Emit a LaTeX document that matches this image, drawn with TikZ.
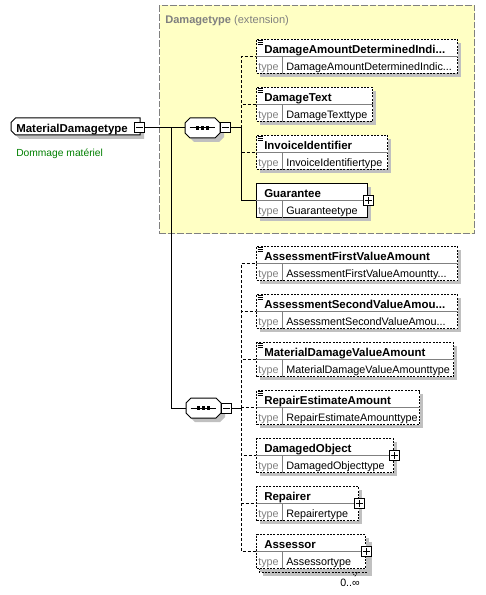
\documentclass[tikz,border=0pt]{standalone}
\usepackage{fontspec}
\setmainfont{Liberation Sans}
\usetikzlibrary{calc}
\definecolor{ybg}{HTML}{FFFFC4}
\definecolor{shd}{HTML}{C0C0C0}
\definecolor{grn}{HTML}{008000}
\definecolor{gry}{HTML}{808080}
\newcommand\ftitle{\fontsize{8.6}{10}\selectfont\bfseries}
\newcommand\ftype{\fontsize{8.1}{10}\selectfont}
\tikzset{
  conn/.style={line width=0.75pt},
  optconn/.style={conn, dash pattern=on 2.25pt off 1.5pt},
  elbox/.style={draw, fill=white, line width=0.75pt, inner sep=0pt, anchor=north west},
  optbox/.style={elbox, dash pattern=on 1.5pt off 1pt},
  titl/.style={anchor=base west, inner sep=0pt, font=\ftitle},
  typk/.style={anchor=base west, inner sep=0pt, font=\ftype, text=gry},
  typv/.style={anchor=base west, inner sep=0pt, font=\ftype},
  pbox/.style={draw, fill=white, line width=0.75pt, inner sep=0pt, minimum size=7.5pt},
  extbox/.style={draw=gry, fill=ybg, line width=0.75pt, dash pattern=on 5pt off 1.5pt, inner sep=0pt, anchor=north west},
  ghost/.style={inner sep=0pt, draw=none},
}
% element box: #1 name, #2 x, #3 top, #4 width, #5 style, #6 title, #7 type
\newcommand\xelem[7]{%
  \fill[shd] (#2+4,#3+4) rectangle ++(#4,34);
  \node[#5, minimum width=#4*0.75pt, minimum height=34*0.75pt] (#1) at (#2,#3) {};
  \draw[gry, line width=0.75pt] (#1.west) -- (#1.east);
  \draw[gry, line width=0.75pt] ($(#1.west)+(26,0)$) -- ($(#1.south west)+(26,0)$);
  \node[titl] (#1-t) at ($(#1.north west)+(8,14.3)$) {#6};
  \node[typk] (#1-k) at ($(#1.north west)+(2,31.5)$) {type};
  \node[typv] (#1-v) at ($(#1.north west)+(30,31.5)$) {#7};
}
\newcommand\xicon[1]{%
  \foreach \d in {1.8,3.5,5.2}
    \draw[line width=0.6pt] ($(#1.north west)+(1.5,\d)$) -- ++(5,0);
}
\newcommand\xplus[2]{%
  \node[pbox] (#1) at (#2) {};
  \draw[line width=0.75pt] ($(#1.center)+(-3.5,0)$) -- ($(#1.center)+(3.5,0)$);
  \draw[line width=0.75pt] ($(#1.center)+(0,-3.5)$) -- ($(#1.center)+(0,3.5)$);
}
\newcommand\xminus[2]{%
  \node[pbox] (#1) at (#2) {};
  \draw[line width=0.75pt] ($(#1.center)+(-3.5,0)$) -- ($(#1.center)+(3.5,0)$);
}
% sequence compositor: #1 name, #2 cx, #3 cy
\newcommand\xseq[3]{%
  \begin{scope}[shift={(#2+4,#3+4)}]
    \fill[shd] (-17.5,-5) -- (-12.5,-10) -- (12.5,-10) -- (17.5,-5) -- (17.5,5) -- (12.5,10) -- (-12.5,10) -- (-17.5,5) -- cycle;
  \end{scope}
  \node[ghost, minimum width=26.25pt, minimum height=15pt] (#1) at (#2,#3) {};
  \begin{scope}[shift={(#2,#3)}]
    \draw[line width=0.75pt, fill=white] (-17.5,-5) -- (-12.5,-10) -- (12.5,-10) -- (17.5,-5) -- (17.5,5) -- (12.5,10) -- (-12.5,10) -- (-17.5,5) -- cycle;
    \draw[line width=0.75pt] (-13,0) -- (12,0);
    \foreach \q in {-5,0,5} \fill (\q-1.6,-1.6) rectangle (\q+1.6,1.6);
  \end{scope}
}
\begin{document}
\begin{tikzpicture}[x=0.75pt, y=-0.75pt]
\useasboundingbox (0,0) rectangle (485,595);
\fill[white] (0,0) rectangle (485,595);

% extension frame
\node[extbox, minimum width=315*0.75pt, minimum height=228*0.75pt] (ext) at (159,5) {};
\node[anchor=base west, inner sep=0pt, text=gry, font=\fontsize{8.3}{10}\selectfont] (exth) at (165,23.3) {\textbf{Damagetype} (extension)};

% root element
\fill[shd] (15,122) -- (19.5,122) -- (144,122) -- (144,139) -- (19.5,139) -- (15,134.5) -- cycle;
\node[ghost, minimum width=129*0.75pt, minimum height=17*0.75pt] (md) at (75.5,126.5) {};
\draw[line width=0.75pt, fill=white] (11,122.5) -- (15.5,118) -- (140,118) -- (140,135) -- (15.5,135) -- (11,130.5) -- cycle;
\node[titl] (md-t) at (16,132.3) {MaterialDamagetype};
\node[anchor=base west, inner sep=0pt, text=grn, font=\fontsize{7.7}{9}\selectfont] (md-d) at (16,156.7) {Dommage matériel};
\xminus{mdm}{139,128}

% sequences
\xseq{seq1}{202.5}{128}
\xminus{sm1}{225.5,128}
\xseq{seq2}{203.5}{408}
\xminus{sm2}{226.5,408}

\coordinate (j0) at (171,128);
\coordinate (j1) at (241,128);
\coordinate (j2) at (241,408);

% children of first sequence
\xelem{c1}{256}{39}{201}{optbox}{DamageAmountDeterminedIndi...}{DamageAmountDeterminedIndic...}
\xicon{c1}
\xelem{c2}{256}{87}{116}{optbox}{DamageText}{DamageTexttype}
\xicon{c2}
\xelem{c3}{256}{135}{131}{optbox}{InvoiceIdentifier}{InvoiceIdentifiertype}
\xicon{c3}
\xelem{c4}{256}{183}{111}{elbox}{Guarantee}{Guaranteetype}
\xplus{c4p}{c4.east}

% children of second sequence
\xelem{d1}{256}{246}{201}{optbox}{AssessmentFirstValueAmount}{AssessmentFirstValueAmountty...}
\xicon{d1}
\xelem{d2}{256}{294}{201}{optbox}{AssessmentSecondValueAmou...}{AssessmentSecondValueAmou...}
\xicon{d2}
\xelem{d3}{256}{342}{197}{optbox}{MaterialDamageValueAmount}{MaterialDamageValueAmounttype}
\xicon{d3}
\xelem{d4}{256}{390}{163}{optbox}{RepairEstimateAmount}{RepairEstimateAmounttype}
\xicon{d4}
\xelem{d5}{256}{438}{137}{optbox}{DamagedObject}{DamagedObjecttype}
\xplus{d5p}{d5.east}
\xelem{d6}{256}{486}{102}{optbox}{Repairer}{Repairertype}
\xplus{d6p}{d6.east}
% Assessor (multiple occurrences)
\fill[shd] (263,542) rectangle (372,576);
\draw[line width=0.75pt, fill=white, dash pattern=on 1.5pt off 1pt] (259,538) rectangle (368,572);
\xelem{d7}{256}{534}{109}{optbox}{Assessor}{Assessortype}
\xplus{d7p}{d7.east}
\draw[line width=0.5pt, dash pattern=on 1pt off 0.75pt] (352,572) -- (355,576) -- (358,572);
\node[anchor=base west, inner sep=0pt, font=\fontsize{8}{10}\selectfont] (occ) at (340,586.7) {0..∞};

% connectors
\draw[conn] (mdm.east) -- (seq1.west);
\draw[conn] (j0) |- (seq2.west);
\draw[conn] (sm1.east) -- (j1);
\draw[conn] (sm2.east) -- (j2);
\draw[optconn] (j1) |- (c1.west);
\draw[optconn] (j1) |- (c2.west);
\draw[optconn] (j1) |- (c3.west);
\draw[conn] (j1) |- (c4.west);
\foreach \n in {d1,d2,d3,d4,d5,d6,d7}
  \draw[optconn] (j2) |- (\n.west);
\end{tikzpicture}
\end{document}
